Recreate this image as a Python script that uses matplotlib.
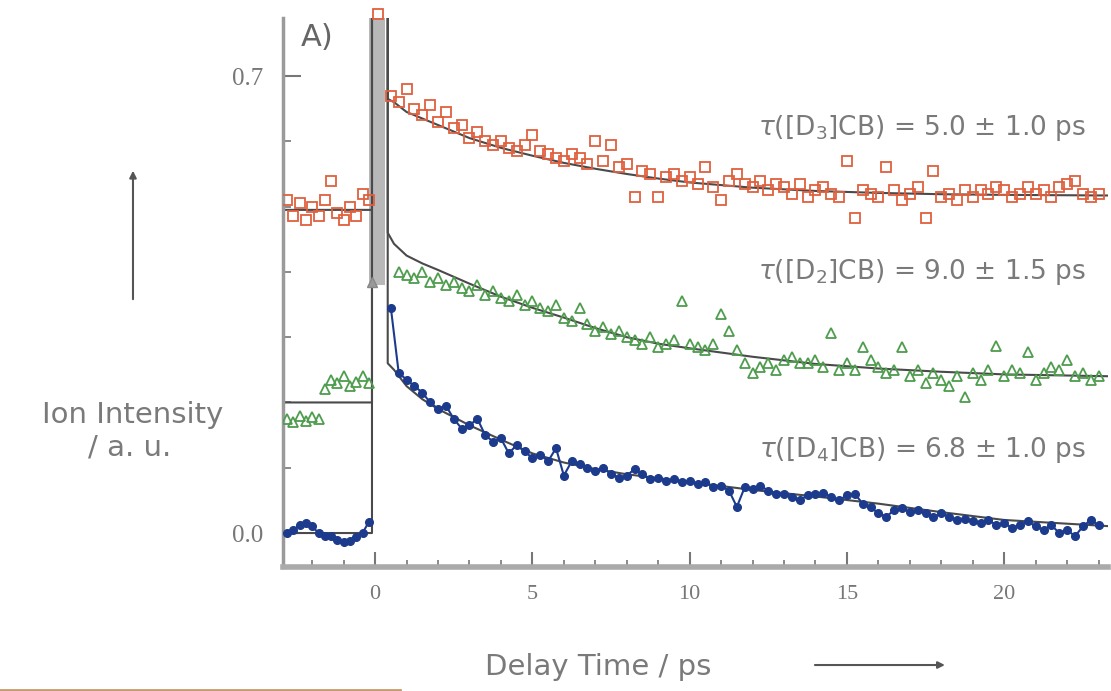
import numpy as np
import matplotlib
matplotlib.use("Agg")
import matplotlib.pyplot as plt
from matplotlib.lines import Line2D

# delay grid before and after time zero (ps)
t_pre = np.round(np.arange(-2.8, -0.19, 0.2), 2)
t_post = np.round(np.arange(0.5, 23.01, 0.25), 2)

# [D3]CB, red squares
red_pre = [0.51, 0.485, 0.505, 0.48, 0.50, 0.485, 0.51, 0.54, 0.49, 0.48, 0.50, 0.485, 0.52, 0.51]
red_post = [0.67, 0.66,
            0.68, 0.65, 0.64, 0.655,
            0.63, 0.645, 0.62, 0.625,
            0.605, 0.615, 0.60, 0.595,
            0.60, 0.59, 0.585, 0.595,
            0.61, 0.585, 0.58, 0.575,
            0.57, 0.58, 0.575, 0.565,
            0.60, 0.57, 0.595, 0.56,
            0.565, 0.515, 0.555, 0.55,
            0.515, 0.545, 0.55, 0.54,
            0.545, 0.535, 0.56, 0.53,
            0.51, 0.54, 0.55, 0.535,
            0.53, 0.54, 0.525, 0.535,
            0.53, 0.52, 0.535, 0.515,
            0.525, 0.53, 0.52, 0.515,
            0.57, 0.483, 0.525, 0.52,
            0.515, 0.56, 0.525, 0.51,
            0.52, 0.53, 0.483, 0.555,
            0.515, 0.52, 0.51, 0.525,
            0.515, 0.525, 0.52, 0.53,
            0.525, 0.515, 0.52, 0.53,
            0.52, 0.525, 0.515, 0.53,
            0.535, 0.54, 0.52, 0.515,
            0.52]
red_peak_t, red_peak_y = [0.1], [0.795]

# [D2]CB, green triangles
green_pre = [0.175, 0.17, 0.18, 0.172, 0.178, 0.175, 0.22, 0.235, 0.23, 0.24, 0.225, 0.232, 0.24, 0.23]
green_post = [np.nan, 0.40,
              0.395, 0.39, 0.40, 0.385,
              0.39, 0.38, 0.385, 0.375,
              0.37, 0.38, 0.365, 0.37,
              0.36, 0.355, 0.365, 0.35,
              0.355, 0.345, 0.34, 0.35,
              0.33, 0.325, 0.345, 0.32,
              0.31, 0.315, 0.305, 0.31,
              0.30, 0.295, 0.29, 0.30,
              0.285, 0.29, 0.295, 0.356,
              0.29, 0.285, 0.28, 0.29,
              0.336, 0.31, 0.28, 0.26,
              0.245, 0.255, 0.26, 0.25,
              0.265, 0.27, 0.26, 0.26,
              0.265, 0.255, 0.306, 0.25,
              0.26, 0.25, 0.285, 0.265,
              0.255, 0.245, 0.25, 0.285,
              0.24, 0.25, 0.23, 0.245,
              0.235, 0.225, 0.24, 0.208,
              0.245, 0.235, 0.25, 0.287,
              0.24, 0.25, 0.245, 0.277,
              0.235, 0.245, 0.255, 0.25,
              0.265, 0.24, 0.245, 0.235,
              0.24]
green_peak_t, green_peak_y = [-0.1], [0.384]

# [D4]CB, blue circles
blue_pre = [0.0, 0.005, 0.012, 0.015, 0.01, 0.0, -0.005, -0.004, -0.01, -0.014, -0.012, -0.006, 0.0, 0.017]
blue_post = [0.345, 0.245,
             0.235, 0.225, 0.215, 0.20,
             0.19, 0.195, 0.175, 0.16,
             0.165, 0.175, 0.15, 0.14,
             0.145, 0.122, 0.135, 0.125,
             0.115, 0.12, 0.11, 0.13,
             0.088, 0.11, 0.105, 0.10,
             0.095, 0.10, 0.09, 0.085,
             0.088, 0.098, 0.09, 0.082,
             0.085, 0.08, 0.082, 0.078,
             0.08, 0.075, 0.078, 0.07,
             0.072, 0.065, 0.04, 0.07,
             0.068, 0.072, 0.065, 0.06,
             0.06, 0.055, 0.05, 0.058,
             0.06, 0.062, 0.055, 0.05,
             0.058, 0.06, 0.045, 0.04,
             0.03, 0.025, 0.035, 0.038,
             0.032, 0.035, 0.03, 0.025,
             0.03, 0.025, 0.02, 0.022,
             0.018, 0.015, 0.02, 0.012,
             0.015, 0.008, 0.012, 0.018,
             0.01, 0.005, 0.012, 0.0,
             0.005, -0.005, 0.01, 0.02,
             0.012]

# fitted curves (spike at time zero goes off scale)
fit_t = [-3.0, -0.1, -0.1, 0.4, 0.4, 0.6, 1, 1.5, 2, 3, 4, 5, 6, 7, 8, 9, 10, 12, 14, 16, 18, 20, 23.5]
red_fit = [0.495, 0.495, 0.9, 0.9, 0.665, 0.66, 0.645, 0.635, 0.625, 0.605, 0.59, 0.578, 0.567,
           0.558, 0.55, 0.543, 0.537, 0.529, 0.524, 0.521, 0.519, 0.518, 0.517]
green_fit = [0.2, 0.2, 0.9, 0.9, 0.46, 0.443, 0.425, 0.413, 0.403, 0.382, 0.362, 0.345, 0.33,
             0.314, 0.30, 0.29, 0.283, 0.27, 0.259, 0.252, 0.247, 0.243, 0.24]
blue_fit = [0.0, 0.0, 0.9, 0.9, 0.26, 0.25, 0.225, 0.205, 0.19, 0.165, 0.143, 0.122, 0.108,
            0.098, 0.09, 0.084, 0.078, 0.066, 0.056, 0.045, 0.032, 0.02, 0.01]

# cross-correlation band
xc_t = [-0.2, 0.3]
xc_low, xc_high = 0.38, 0.9

labels = [r"$\tau$([D$_3$]CB) = 5.0 ± 1.0 ps",
          r"$\tau$([D$_2$]CB) = 9.0 ± 1.5 ps",
          r"$\tau$([D$_4$]CB) = 6.8 ± 1.0 ps"]
label_y = [0.62, 0.40, 0.127]

red_c = "#e0603f"
green_c = "#4e9c4e"
blue_c = "#1d3b8c"
text_c = "#7a7a7a"

fig = plt.figure(figsize=(11.11, 6.91), dpi=100)
ax = fig.add_axes([0.2547, 0.1795, 0.7426, 0.7945])

ax.fill_between(xc_t, xc_low, xc_high, color="#b8b8b8", lw=0, zorder=1)

for fy in (red_fit, green_fit, blue_fit):
    ax.plot(fit_t, fy, color="#4a4a4a", lw=1.5, zorder=2)

ax.plot(t_pre, red_pre, "s", mfc="none", mec=red_c, ms=7.5, mew=1.3, zorder=3)
ax.plot(t_post, red_post, "s", mfc="none", mec=red_c, ms=7.5, mew=1.3, zorder=3)
ax.plot(red_peak_t, red_peak_y, "s", mfc="none", mec=red_c, ms=7.5, mew=1.3, zorder=3, clip_on=False)

ax.plot(t_pre, green_pre, "^", mfc="none", mec=green_c, ms=7.5, mew=1.3, zorder=3)
ax.plot(t_post, green_post, "^", mfc="none", mec=green_c, ms=7.5, mew=1.3, zorder=3)
ax.plot(green_peak_t, green_peak_y, "^", mfc="#999999", mec="#888888", ms=7, zorder=3)

ax.plot(t_pre, blue_pre, "o-", color=blue_c, ms=5.5, lw=1.5, zorder=3)
ax.plot(t_post, blue_post, "o-", color=blue_c, ms=5.5, lw=1.5, zorder=3)

for lab, ly in zip(labels, label_y):
    ax.text(22.6, ly, lab, ha="right", va="center", fontsize=19, color=text_c)

ax.text(0.022, 0.99, "A)", transform=ax.transAxes, ha="left", va="top",
        fontsize=22, color="#666666")

ax.set_xlim(-2.93, 23.3)
ax.set_ylim(-0.052, 0.789)

ax.set_xticks([0, 5, 10, 15, 20])
ax.set_xticks(np.arange(-2, 24, 1), minor=True)
ax.set_yticks([0.0, 0.7])
ax.set_yticklabels(["0.0", "0.7"])
ax.set_yticks(np.arange(0.1, 0.7, 0.1), minor=True)

for s in ("top", "right"):
    ax.spines[s].set_visible(False)
ax.spines["left"].set_color("#9a9a9a")
ax.spines["left"].set_linewidth(2.5)
ax.spines["bottom"].set_color("#aaaaaa")
ax.spines["bottom"].set_linewidth(4)

ax.tick_params(axis="both", which="both", direction="in", colors="#777777")
ax.tick_params(axis="x", which="major", length=11, width=1.5, pad=13)
ax.tick_params(axis="x", which="minor", length=5, width=1.2)
ax.tick_params(axis="y", which="major", length=13, width=1.5, pad=14)
ax.tick_params(axis="y", which="minor", length=6, width=1.2)
for lbl in ax.get_xticklabels():
    lbl.set_fontfamily("Liberation Serif")
    lbl.set_fontsize(16)
    lbl.set_color("#777777")
for lbl in ax.get_yticklabels():
    lbl.set_fontfamily("Liberation Serif")
    lbl.set_fontsize(18)
    lbl.set_color("#777777")

# axis titles with arrows
fig.text(0.1197, 0.3994, "Ion Intensity", ha="center", va="center", fontsize=21, color=text_c)
fig.text(0.117, 0.3517, "/ a. u.", ha="center", va="center", fontsize=21, color=text_c)
fig.text(0.538, 0.0347, "Delay Time / ps", ha="center", va="center", fontsize=21, color=text_c)
fig.add_artist(matplotlib.patches.FancyArrowPatch((0.1197, 0.563), (0.1197, 0.757),
               transform=fig.transFigure, arrowstyle="-|>,head_length=4,head_width=2",
               color="#555555", lw=1.5))
fig.add_artist(matplotlib.patches.FancyArrowPatch((0.731, 0.0376), (0.853, 0.0376),
               transform=fig.transFigure, arrowstyle="-|>,head_length=4,head_width=2",
               color="#555555", lw=1.5))
fig.add_artist(Line2D([0, 0.36], [0.002, 0.002], transform=fig.transFigure,
                      color="#c89a72", lw=2))

fig.savefig("out.png", dpi=100)
